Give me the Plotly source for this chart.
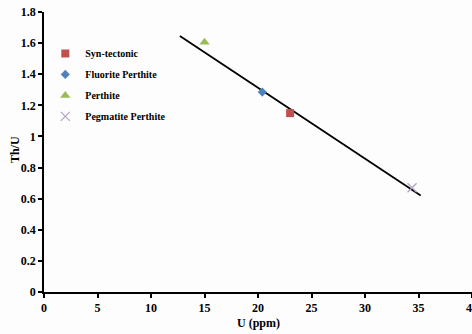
import plotly.graph_objects as go

syn_x = [23.0]
syn_y = [1.15]
fluor_x = [20.4]
fluor_y = [1.285]
perth_x = [15.0]
perth_y = [1.605]
pegm_x = [34.4]
pegm_y = [0.67]
trend_x = [12.7, 35.2]
trend_y = [1.645, 0.62]

x_ticks = [0, 5, 10, 15, 20, 25, 30, 35, 40]
y_ticks = [0, 0.2, 0.4, 0.6, 0.8, 1, 1.2, 1.4, 1.6, 1.8]
y_labels = ["0", "0.2", "0.4", "0.6", "0.8", "1", "1.2", "1.4", "1.6", "1.8"]

font = "Liberation Serif"

fig = go.Figure()
fig.add_trace(go.Scatter(x=trend_x, y=trend_y, mode="lines",
                         line=dict(color="black", width=1.8), showlegend=False, hoverinfo="skip"))
fig.add_trace(go.Scatter(x=syn_x, y=syn_y, mode="markers", name="<b>Syn-tectonic</b>", legendgroup="a",
                         marker=dict(symbol="square", size=8, color="#c0504d")))
fig.add_trace(go.Scatter(x=fluor_x, y=fluor_y, mode="markers", name="<b>Fluorite Perthite</b>", legendgroup="b",
                         marker=dict(symbol="diamond", size=7, color="#4f81bd")))
fig.add_trace(go.Scatter(x=perth_x, y=perth_y, mode="markers", name="<b>Perthite</b>", legendgroup="c",
                         marker=dict(symbol="triangle-up", size=9, color="#9bbb59")))
fig.add_trace(go.Scatter(x=pegm_x, y=pegm_y, mode="markers", name="<b>Pegmatite Perthite</b>", legendgroup="d",
                         marker=dict(symbol="x-thin", size=9, line=dict(color="#b3a2c7", width=1.2))))

fig.update_layout(
    width=472, height=334,
    margin=dict(l=44, r=0, t=12, b=42),
    paper_bgcolor="#fdfdfd", plot_bgcolor="#fdfdfd",
    font=dict(family=font, size=12, color="black"),
    legend=dict(x=0.003, y=0.904, xanchor="left", yanchor="top",
                bgcolor="rgba(0,0,0,0)", font=dict(family=font, size=10, color="black"),
                itemwidth=30, tracegroupgap=2),
    xaxis=dict(range=[0, 40], tickvals=x_ticks, ticktext=[f"<b>{v}</b>" for v in x_ticks],
               showgrid=False, zeroline=False, showline=True, linecolor="black", linewidth=2,
               ticks="outside", ticklen=4, tickcolor="black", tickwidth=1.5,
               automargin=False, ticklabeloverflow="allow", tickfont=dict(size=12)),
    yaxis=dict(range=[0, 1.8], tickvals=y_ticks, ticktext=[f"<b>{v}</b>" for v in y_labels],
               showgrid=False, zeroline=False, showline=True, linecolor="black", linewidth=1.5,
               ticks="outside", ticklen=4, tickcolor="black", tickwidth=1.5,
               automargin=False, ticklabeloverflow="allow", tickfont=dict(size=12)),
    annotations=[
        dict(text="<b>U (ppm)</b>", xref="paper", yref="paper", x=0.5, y=-0.112,
             xanchor="center", yanchor="middle", showarrow=False, font=dict(size=12)),
        dict(text="<b>Th/U</b>", xref="paper", yref="paper", x=-0.068, y=0.51,
             xanchor="center", yanchor="middle", showarrow=False, textangle=-90, font=dict(size=12)),
    ],
)
fig.write_html("out.html", config={"displayModeBar": False},
               post_script="document.body.style.margin='0';document.body.style.background='#fdfdfd';")
